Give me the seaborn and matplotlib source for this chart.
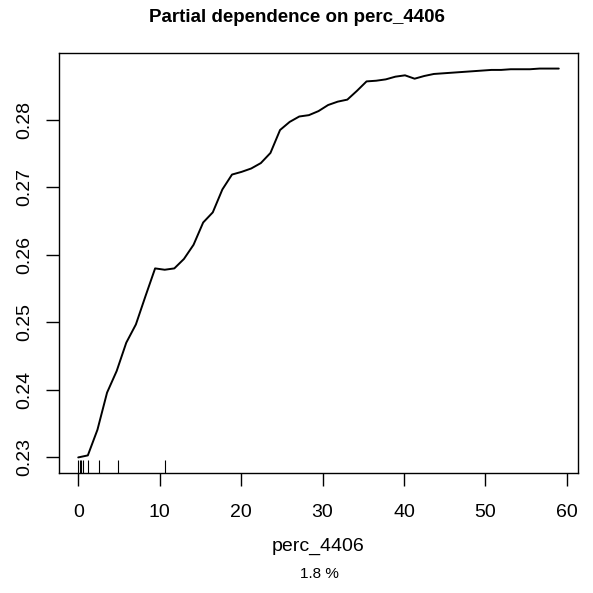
import matplotlib
matplotlib.use("Agg")
import matplotlib.pyplot as plt
import numpy as np
import pandas as pd
import seaborn as sns

# grid of perc_4406 values and partial dependence
perc_4406 = np.linspace(0, 59, 51)
pdep = [0.2300, 0.2303, 0.2341, 0.2396, 0.2428, 0.2470, 0.2497, 0.2539, 0.2580, 0.2578,
        0.2580, 0.2594, 0.2615, 0.2648, 0.2663, 0.2697, 0.2719, 0.2723, 0.2728, 0.2736,
        0.2751, 0.2785, 0.2797, 0.2805, 0.2807, 0.2813, 0.2822, 0.2827, 0.2830, 0.2843,
        0.2857, 0.2858, 0.2860, 0.2864, 0.2866, 0.2861, 0.2865, 0.2868, 0.2869, 0.2870,
        0.2871, 0.2872, 0.2873, 0.2874, 0.2874, 0.2875, 0.2875, 0.2875, 0.2876, 0.2876,
        0.2876]
# deciles shown as rug
rug_vals = [0.0, 0.2, 0.4, 0.6, 1.2, 2.5, 4.9, 10.6]

df = pd.DataFrame({'perc_4406': perc_4406, 'pd': pdep})

sns.set_style("white")
plt.rcParams['font.family'] = ['Liberation Sans', 'DejaVu Sans']
plt.rcParams['text.color'] = 'black'

fig = plt.figure(figsize=(5.93, 5.93), dpi=100)
ax = fig.add_axes([0.0995, 0.2024, 0.8752, 0.7082])

sns.lineplot(data=df, x='perc_4406', y='pd', color='black', linewidth=1.4, ax=ax)
sns.rugplot(x=rug_vals, height=0.031, color='black', linewidth=0.8, ax=ax)

xr = perc_4406.max() - perc_4406.min()
yr = max(pdep) - min(pdep)
ax.set_xlim(perc_4406.min() - 0.04 * xr, perc_4406.max() + 0.04 * xr)
ax.set_ylim(min(pdep) - 0.04 * yr, max(pdep) + 0.04 * yr)

ax.set_xticks([0, 10, 20, 30, 40, 50, 60])
ax.set_yticks([0.23, 0.24, 0.25, 0.26, 0.27, 0.28])
ax.set_yticklabels(['0.23', '0.24', '0.25', '0.26', '0.27', '0.28'],
                   rotation=90, va='center')
ax.tick_params(axis='both', direction='out', length=9.5, width=1, labelsize=14,
               color='black', labelcolor='black', bottom=True, left=True)
ax.tick_params(axis='x', pad=13)
ax.tick_params(axis='y', pad=9)
for s in ax.spines.values():
    s.set_color('black')
    s.set_linewidth(1)

ax.set_xlabel('perc_4406', fontsize=14, va='center', color='black')
ax.xaxis.set_label_coords(0.5, -0.174)
ax.set_ylabel('')
fig.text(0.538, 0.032, '1.8 %', ha='center', va='center', fontsize=11)
fig.text(0.5, 0.971, 'Partial dependence on perc_4406', ha='center', va='center',
         fontsize=13.5, fontweight='bold')

fig.savefig('out.png', dpi=100)
